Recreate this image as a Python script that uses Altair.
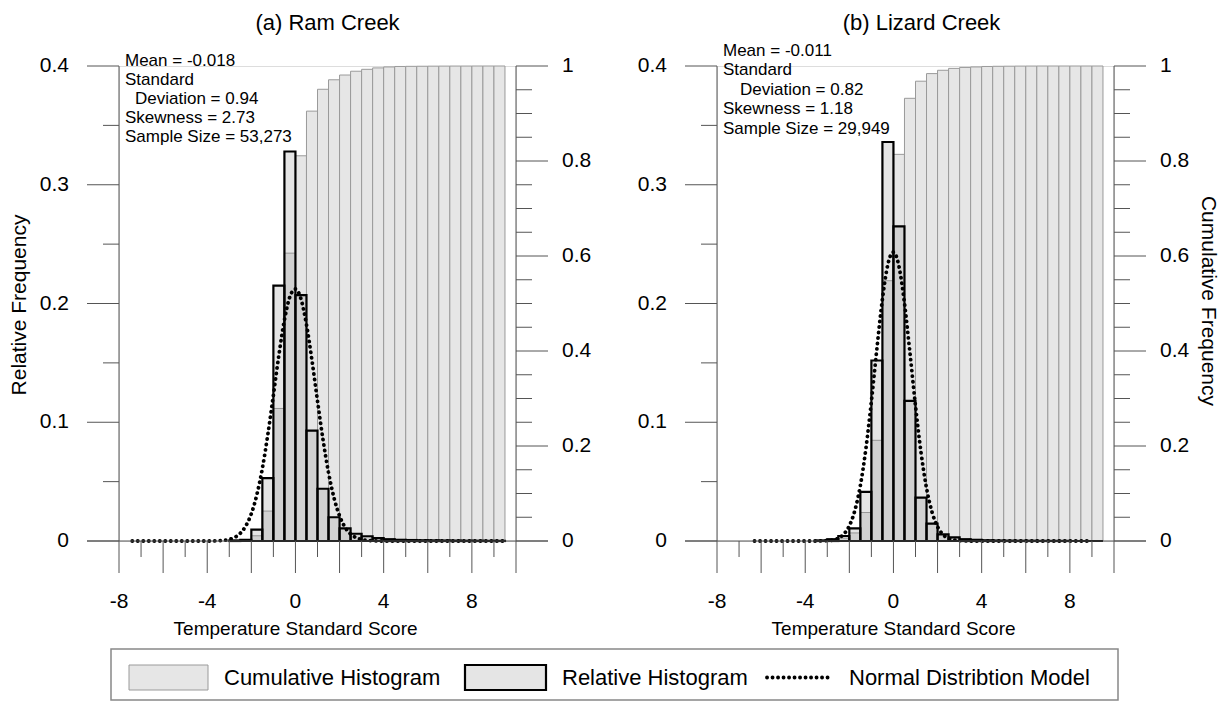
import altair as alt
import pandas as pd

FONT = "Liberation Sans"
TICK = "#555555"

# ---------------- tick values ----------------
x_major = [-8, -6, -4, -2, 0, 2, 4, 6, 8, 10]
x_minor = [-7, -5, -3, -1, 1, 3, 5, 7, 9]
x_labels = [-8, -4, 0, 4, 8]
rel_major = [0, 0.1, 0.2, 0.3, 0.4]
rel_minor = [0.05, 0.15, 0.25, 0.35]
cum_major = [0, 0.2, 0.4, 0.6, 0.8, 1.0]
cum_minor = [0.05, 0.1, 0.15, 0.25, 0.3, 0.35, 0.45, 0.5, 0.55,
             0.65, 0.7, 0.75, 0.85, 0.9, 0.95]

# ---------------- (a) Ram Creek ----------------
bins_a = [-3.0, -2.5, -2.0, -1.5, -1.0, -0.5, 0.0, 0.5, 1.0, 1.5, 2.0, 2.5,
          3.0, 3.5, 4.0, 4.5, 5.0, 5.5, 6.0, 6.5, 7.0, 7.5, 8.0, 8.5, 9.0]
rel_a = [0.0005, 0.001, 0.0095, 0.053, 0.215, 0.328, 0.207, 0.093, 0.044,
         0.020, 0.0107, 0.0061, 0.004, 0.0025, 0.0015, 0.001, 0.0008, 0.0006,
         0.0005, 0.0004, 0.0003, 0.0002, 0.0002, 0.0001, 0.0001]
cum_a = [0.0005, 0.0015, 0.011, 0.063, 0.279, 0.606, 0.811, 0.905, 0.951,
         0.971, 0.981, 0.989, 0.993, 0.996, 0.998, 0.999, 0.9993, 0.9995,
         0.9997, 0.9998, 0.9999, 0.9999, 1.0, 1.0, 1.0]
norm_x_a = [-7.4, -5.0, -4.0, -3.5, -3.0, -2.75, -2.5, -2.25, -2.0, -1.75,
            -1.5, -1.25, -1.0, -0.75, -0.5, -0.25, 0.0, 0.25, 0.5, 0.75, 1.0,
            1.25, 1.5, 1.75, 2.0, 2.25, 2.5, 2.75, 3.0, 3.5, 4.0, 5.0, 9.45]
norm_y_a = [0, 0, 0, 0.0002, 0.0014, 0.0031, 0.0065, 0.0127, 0.0230, 0.0389,
            0.0612, 0.0899, 0.1229, 0.1567, 0.1861, 0.2058, 0.2122, 0.2038,
            0.1823, 0.1520, 0.1180, 0.0854, 0.0576, 0.0362, 0.0212, 0.0115,
            0.0059, 0.0028, 0.0012, 0.0002, 0, 0, 0]
stats_a = ["Mean = -0.018", "Standard", "Deviation = 0.94",
           "Skewness = 2.73", "Sample Size = 53,273"]

# ---------------- (b) Lizard Creek ----------------
bins_b = [-3.5, -3.0, -2.5, -2.0, -1.5, -1.0, -0.5, 0.0, 0.5, 1.0, 1.5, 2.0,
          2.5, 3.0, 3.5, 4.0, 4.5, 5.0, 5.5, 6.0, 6.5, 7.0, 7.5, 8.0, 8.5, 9.0]
rel_b = [0.0005, 0.0015, 0.0042, 0.0107, 0.0413, 0.152, 0.336, 0.265, 0.118,
         0.0365, 0.0146, 0.0056, 0.003, 0.0015, 0.001, 0.0006, 0.0004, 0.0003,
         0.0002, 0.0002, 0.0001, 0.0001, 0.0001, 0.0, 0.0, 0.0]
cum_b = [0.0005, 0.002, 0.006, 0.017, 0.060, 0.212, 0.548, 0.814, 0.932,
         0.968, 0.984, 0.991, 0.995, 0.997, 0.998, 0.999, 0.9994, 0.9996,
         0.9998, 0.9999, 1.0, 1.0, 1.0, 1.0, 1.0, 1.0]
norm_x_b = [-6.3, -5.0, -4.0, -3.5, -3.0, -2.75, -2.5, -2.25, -2.0, -1.75,
            -1.5, -1.25, -1.0, -0.75, -0.5, -0.25, 0.0, 0.25, 0.5, 0.75, 1.0,
            1.25, 1.5, 1.75, 2.0, 2.25, 2.5, 2.75, 3.0, 3.5, 4.0, 5.0, 9.0]
norm_y_b = [0, 0, 0, 0, 0.0003, 0.0008, 0.0024, 0.0058, 0.0128, 0.0257,
            0.0468, 0.0777, 0.1176, 0.1621, 0.2037, 0.2332, 0.2433, 0.2313,
            0.2004, 0.1582, 0.1138, 0.0746, 0.0446, 0.0243, 0.0120, 0.0054,
            0.0022, 0.0008, 0.0003, 0, 0, 0, 0]
stats_b = ["Mean = -0.011", "Standard", "Deviation = 0.82",
           "Skewness = 1.18", "Sample Size = 29,949"]

legend_labels = ["Cumulative Histogram", "Relative Histogram",
                 "Normal Distribtion Model"]

W, H = 397, 475
CUM_FACTOR = 0.4   # right axis 0..1 drawn on the left 0..0.4 scale
DOT = dict(strokeDash=[0.1, 5.4], strokeCap="round", strokeWidth=3.8)
HATCH = dict(fill="#8a8a8a", fillOpacity=0.22, stroke="black", strokeWidth=2.2)
CUMSTYLE = dict(fill="#e6e6e6", stroke="#9a9a9a", strokeWidth=1)
one = pd.DataFrame({"k": [0]})

xs = alt.Scale(domain=[-8, 10], nice=False, zero=False)
ys = alt.Scale(domain=[0, 0.4], nice=False, zero=False)


def X(field):
    return alt.X(field, type="quantitative", scale=xs, axis=None)


def Y(field):
    return alt.Y(field, type="quantitative", scale=ys, axis=None)


def label(text, px, py, size, align="left", angle=0, baseline="middle"):
    return alt.Chart(one).mark_text(
        text=text, font=FONT, fontSize=size, align=align, baseline=baseline,
        angle=angle, color="black").encode(x=alt.value(px), y=alt.value(py))


def panel(bins, rel, cum, nx, ny, stats, title, title_dx, stats_top,
          stats_lh, indent, left_title=None, right_title=None, extra=()):
    hist = pd.DataFrame({"left": bins, "rel": rel, "cum": cum})
    base = alt.Chart(hist).transform_calculate(
        right="datum.left + 0.5", cum_s=f"datum.cum * {CUM_FACTOR}")

    cum_bars = base.mark_rect(**CUMSTYLE).encode(
        x=X("left"), x2="right:Q", y=Y("cum_s"), y2=alt.datum(0))
    rel_bars = base.mark_rect(**HATCH).encode(
        x=X("left"), x2="right:Q", y=Y("rel"), y2=alt.datum(0))
    normal = alt.Chart(pd.DataFrame({"x": nx, "y": ny})).mark_line(
        color="black", interpolate="monotone", **DOT).encode(
        x=X("x"), y=Y("y"))

    # ---- x axis ----
    baseline = alt.Chart(one).mark_rule(color=TICK, strokeWidth=1).encode(
        x=alt.value(-32), x2=alt.value(W + 32), y=alt.value(H))
    x_maj = alt.Chart(pd.DataFrame({"t": x_major})).mark_rule(
        color=TICK, strokeWidth=1).encode(
        x=X("t"), y=alt.value(H), y2=alt.value(H + 32))
    x_min = alt.Chart(pd.DataFrame({"t": x_minor})).mark_rule(
        color=TICK, strokeWidth=1).encode(
        x=X("t"), y=alt.value(H), y2=alt.value(H + 16))
    x_lab = alt.Chart(pd.DataFrame({"t": x_labels})).transform_calculate(
        s="'' + datum.t").mark_text(
        font=FONT, fontSize=21, align="center", baseline="middle",
        color="black").encode(x=X("t"), y=alt.value(H + 61), text="s:N")

    # ---- left axis ----
    l_dom = alt.Chart(one).mark_rule(color=TICK, strokeWidth=1).encode(
        x=alt.value(0), y=alt.value(0), y2=alt.value(H))
    l_maj = alt.Chart(pd.DataFrame({"t": rel_major})).mark_rule(
        color=TICK, strokeWidth=1).encode(
        y=Y("t"), x=alt.value(-32), x2=alt.value(0))
    l_min = alt.Chart(pd.DataFrame({"t": rel_minor})).mark_rule(
        color=TICK, strokeWidth=1).encode(
        y=Y("t"), x=alt.value(-16), x2=alt.value(0))
    l_lab = alt.Chart(pd.DataFrame({"t": rel_major})).transform_calculate(
        s="'' + datum.t").mark_text(
        font=FONT, fontSize=21, align="right", baseline="middle",
        color="black").encode(y=Y("t"), x=alt.value(-50), text="s:N")

    # ---- right axis (cumulative 0..1) ----
    r_dom = alt.Chart(one).mark_rule(color=TICK, strokeWidth=1).encode(
        x=alt.value(W), y=alt.value(0), y2=alt.value(H))
    r_maj = alt.Chart(pd.DataFrame({"t": cum_major})).transform_calculate(
        ts=f"datum.t * {CUM_FACTOR}").mark_rule(
        color=TICK, strokeWidth=1).encode(
        y=Y("ts"), x=alt.value(W), x2=alt.value(W + 32))
    r_min = alt.Chart(pd.DataFrame({"t": cum_minor})).transform_calculate(
        ts=f"datum.t * {CUM_FACTOR}").mark_rule(
        color=TICK, strokeWidth=1).encode(
        y=Y("ts"), x=alt.value(W), x2=alt.value(W + 16))
    r_lab = alt.Chart(pd.DataFrame({"t": cum_major})).transform_calculate(
        ts=f"datum.t * {CUM_FACTOR}", s="'' + datum.t").mark_text(
        font=FONT, fontSize=21, align="left", baseline="middle",
        color="black").encode(y=Y("ts"), x=alt.value(W + 46), text="s:N")

    layers = [cum_bars, rel_bars, normal, baseline, x_maj, x_min, x_lab,
              l_dom, l_maj, l_min, l_lab, r_dom, r_maj, r_min, r_lab]

    for i, line in enumerate(stats):
        dx = indent if line.startswith("Deviation") else 0
        layers.append(label(line, 6 + dx, stats_top + i * stats_lh, 17,
                            baseline="top"))
    layers.append(label(title, W / 2 + title_dx, -43, 22, align="center"))
    layers.append(label("Temperature Standard Score", 176.6, H + 88, 19,
                        align="center"))
    if left_title:
        layers.append(label(left_title, -99, 239, 21, align="center",
                            angle=270))
    if right_title:
        layers.append(label(right_title, W + 94, 235, 21, align="center",
                            angle=90))
    layers.extend(extra)
    return alt.layer(*layers).properties(width=W, height=H)


# ---------------- legend (drawn under both panels) ----------------
LT, LB = 583, 634            # box top / bottom relative to panel (a) view
LY = 611.5
leg_border = alt.Chart(one).mark_rect(fill="white", stroke="#888888",
                                      strokeWidth=1.5).encode(
    x=alt.value(-8), x2=alt.value(999), y=alt.value(LT), y2=alt.value(LB))
sw_cum = alt.Chart(one).mark_rect(**CUMSTYLE).encode(
    x=alt.value(10), x2=alt.value(89), y=alt.value(599), y2=alt.value(624))
sw_rel = alt.Chart(one).mark_rect(**HATCH).encode(
    x=alt.value(346), x2=alt.value(427), y=alt.value(599), y2=alt.value(624))
sw_norm = alt.Chart(one).mark_rule(color="black", **DOT).encode(
    x=alt.value(648), x2=alt.value(712), y=alt.value(LY))
leg_x = [105, 443, 730]
leg_texts = [label(lab, px, LY, 22) for lab, px in zip(legend_labels, leg_x)]
anchor = alt.Chart(one).mark_rect(fill="white").encode(
    x=alt.value(-118), x2=alt.value(-117), y=alt.value(-65), y2=alt.value(-64))

panel_a = panel(bins_a, rel_a, cum_a, norm_x_a, norm_y_a, stats_a,
                "(a) Ram Creek", 10, -13, 18.9, 10,
                left_title="Relative Frequency",
                extra=[leg_border, sw_cum, sw_rel, sw_norm, *leg_texts, anchor])
panel_b = panel(bins_b, rel_b, cum_b, norm_x_b, norm_y_b, stats_b,
                "(b) Lizard Creek", 6, -23, 19.4, 17,
                right_title="Cumulative Frequency")

chart = alt.hconcat(panel_a, panel_b, spacing=201, bounds="flush").properties(
    padding=0).configure_view(strokeWidth=0).configure(font=FONT)

chart.save("out.html", embed_options={"renderer": "svg", "actions": False})
